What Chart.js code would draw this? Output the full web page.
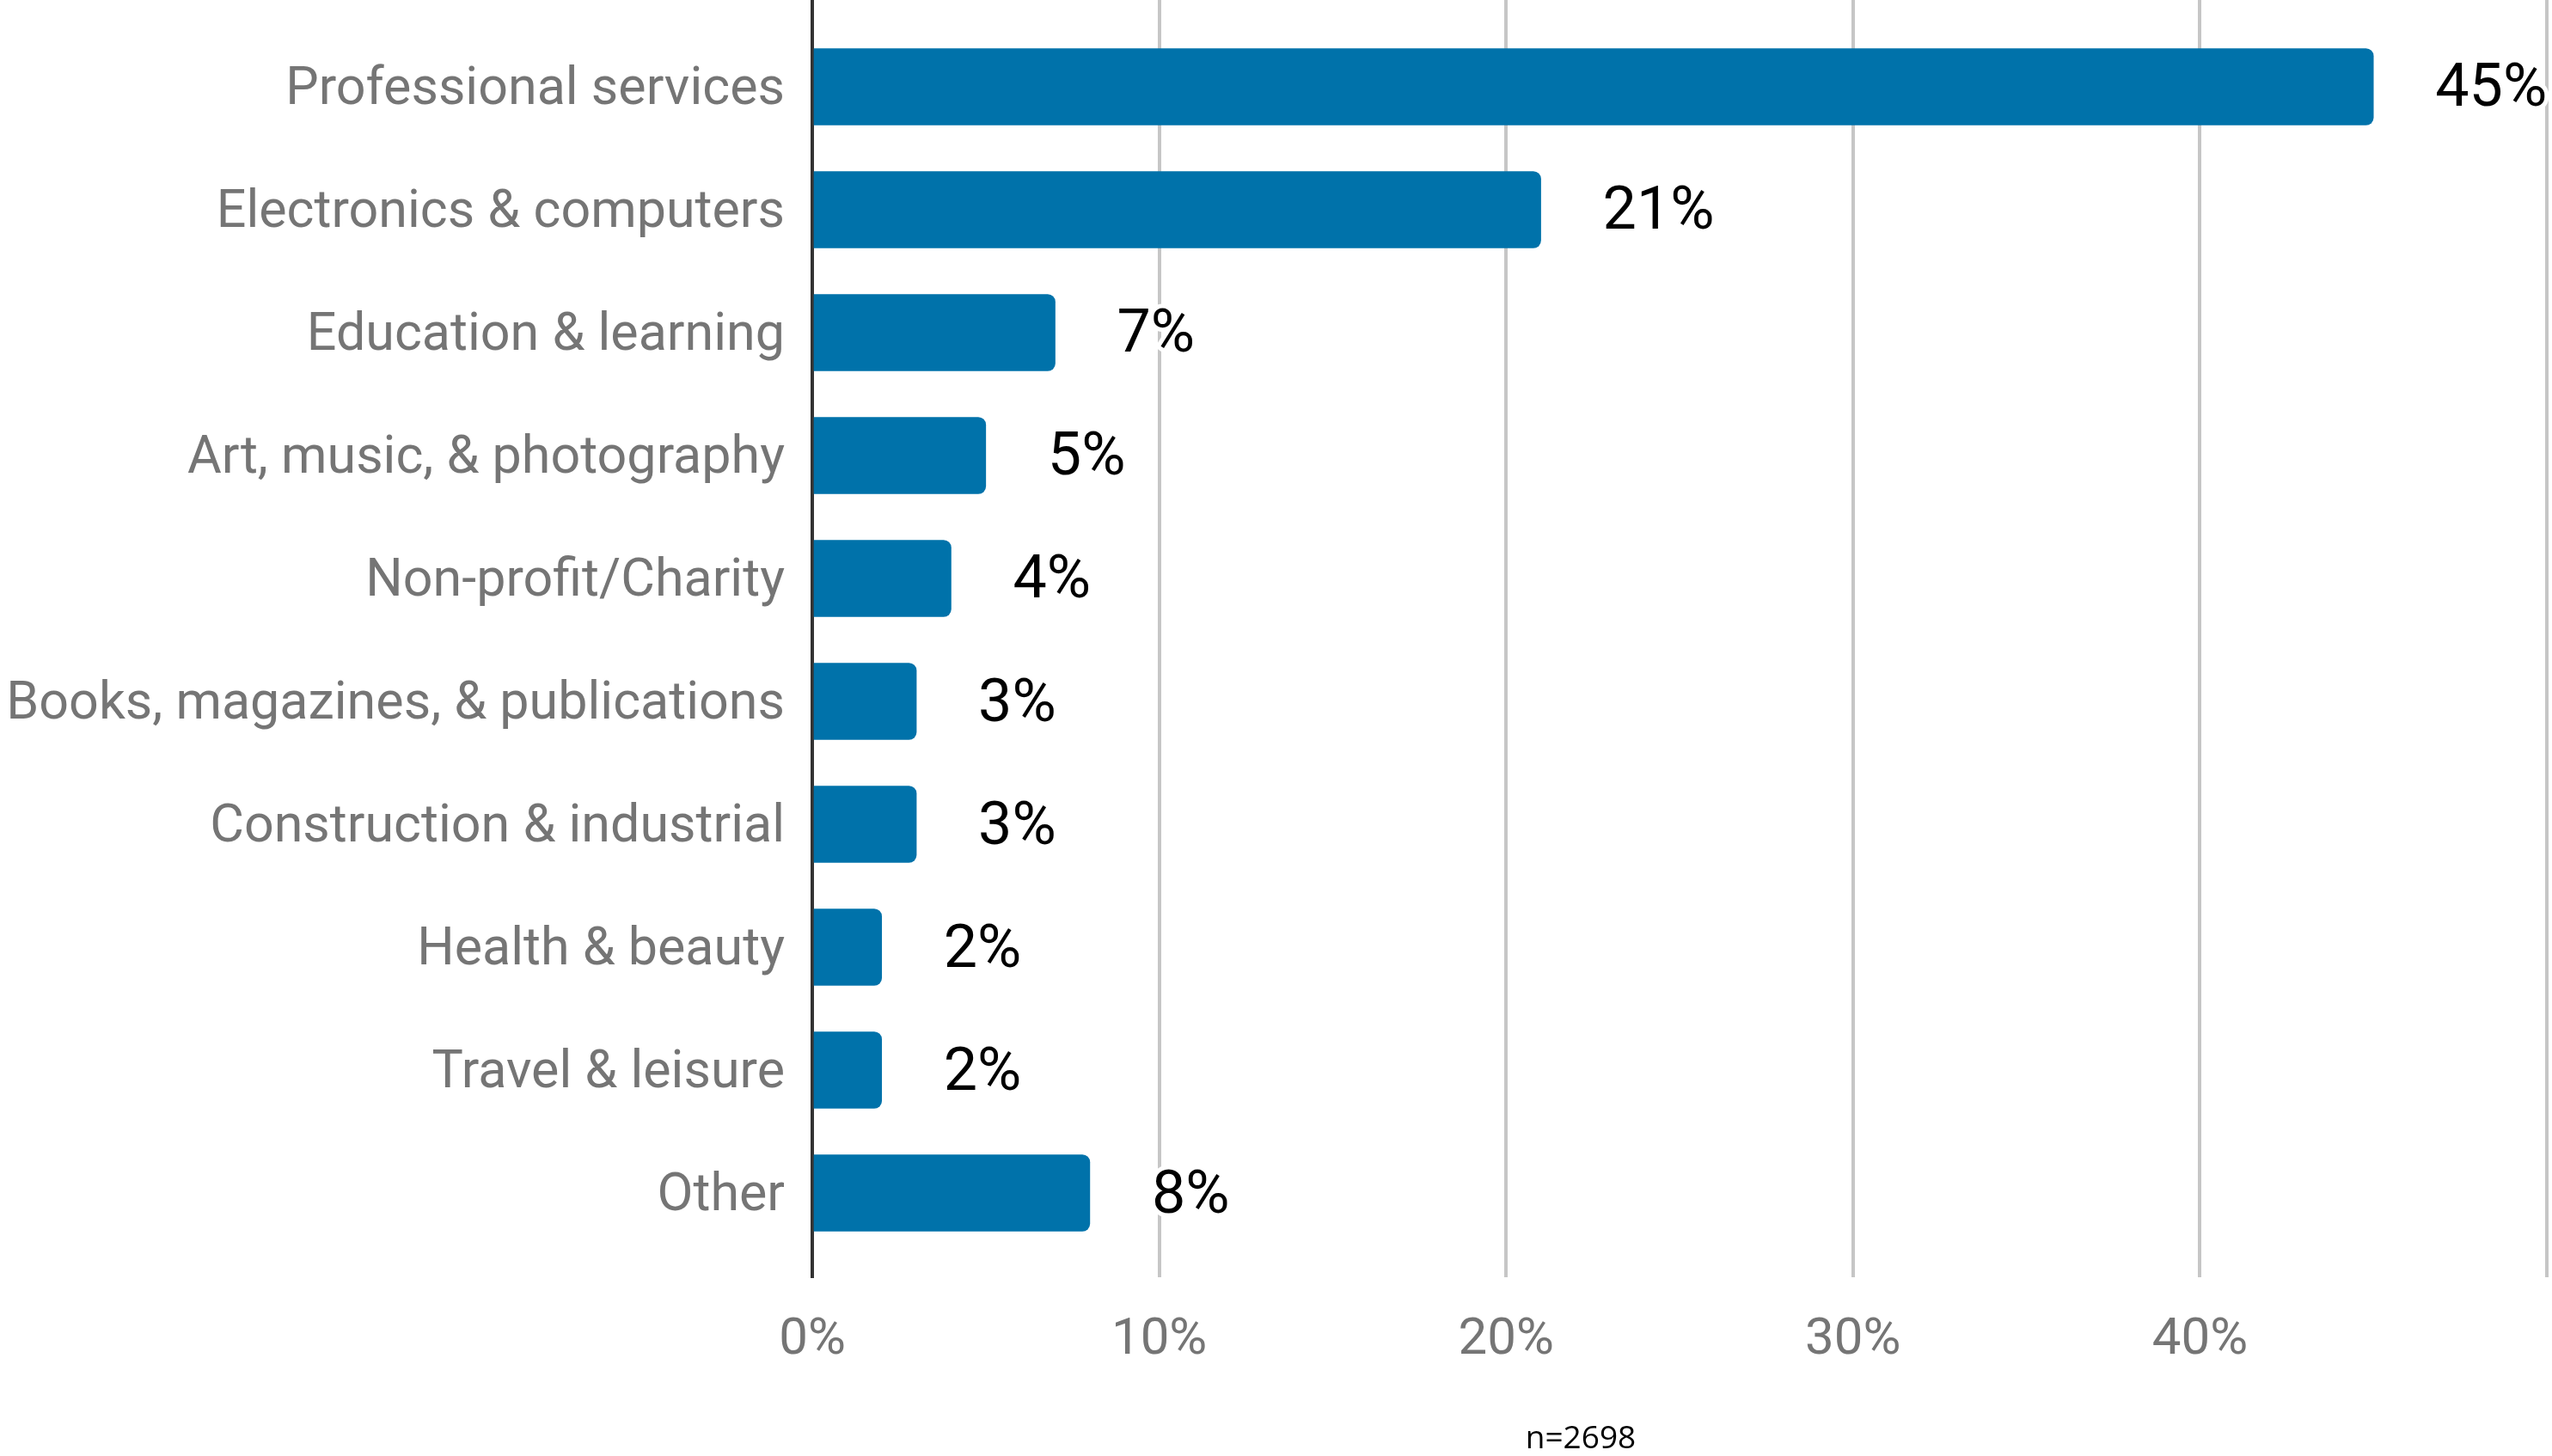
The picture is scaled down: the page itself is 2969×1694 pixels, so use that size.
<!DOCTYPE html>
<html>
<head>
<meta charset="utf-8">
<script src="https://cdn.jsdelivr.net/npm/chart.js@4/dist/chart.umd.min.js"></script>
<style>
  html, body { margin: 0; padding: 0; background: #ffffff; }
  #wrap { width: 2969px; height: 1694px; }
  canvas { display: block; }
</style>
</head>
<body>
<div id="wrap"><canvas id="chart" width="2969" height="1694"></canvas></div>
<script>
// Industry breakdown of respondents (share of total, %)
const categories = [
  'Professional services',
  'Electronics & computers',
  'Education & learning',
  'Art, music, & photography',
  'Non-profit/Charity',
  'Books, magazines, & publications',
  'Construction & industrial',
  'Health & beauty',
  'Travel & leisure',
  'Other'
];
const shares = [45, 21, 7, 5, 4, 3, 3, 2, 2, 8];
const xTicks = [0, 10, 20, 30, 40, 50];
const sampleNote = 'n=2698';

const BAR_BLUE = '#0072aa';
const LABEL_GREY = '#757575';

// Value labels at the end of each bar, black text with a white halo
const valueLabels = {
  id: 'valueLabels',
  afterDraw(chart) {
    const { ctx } = chart;
    const meta = chart.getDatasetMeta(0);
    ctx.save();
    ctx.font = '70px Roboto';
    ctx.textAlign = 'left';
    ctx.textBaseline = 'middle';
    ctx.lineJoin = 'round';
    meta.data.forEach((bar, i) => {
      const text = shares[i] + '%';
      const x = bar.x + 72;
      const y = bar.y + 5;
      ctx.lineWidth = 10;
      ctx.strokeStyle = '#ffffff';
      ctx.strokeText(text, x, y);
      ctx.fillStyle = '#000000';
      ctx.fillText(text, x, y);
    });
    ctx.restore();
  }
};

// Sample size note under the axis
const footNote = {
  id: 'footNote',
  afterDraw(chart) {
    const { ctx } = chart;
    ctx.save();
    ctx.font = '37px "Open Sans"';
    ctx.fillStyle = '#000000';
    ctx.textAlign = 'center';
    ctx.textBaseline = 'alphabetic';
    ctx.fillText(sampleNote, 1839, 1685);
    ctx.restore();
  }
};

function draw() {
  new Chart(document.getElementById('chart'), {
    type: 'bar',
    data: {
      datasets: [{
        data: shares.map((v, i) => ({ x: v, y: i })),
        backgroundColor: BAR_BLUE,
        borderWidth: 0,
        borderRadius: { topLeft: 0, bottomLeft: 0, topRight: 9, bottomRight: 9 },
        borderSkipped: false,
        barThickness: 89
      }]
    },
    options: {
      indexAxis: 'y',
      responsive: false,
      devicePixelRatio: 1,
      animation: false,
      layout: { padding: { top: 0, right: 6, bottom: 0, left: 0 } },
      plugins: {
        legend: { display: false },
        tooltip: { enabled: false }
      },
      scales: {
        x: {
          type: 'linear',
          position: 'bottom',
          min: xTicks[0],
          max: xTicks[xTicks.length - 1],
          offset: false,
          afterBuildTicks: s => { s.ticks = xTicks.map(v => ({ value: v })); },
          afterFit: s => {
            s.height = 208;
            s.paddingLeft = 0;
            s.paddingRight = 0;
          },
          grid: { color: '#c6c6c6', lineWidth: 4, drawTicks: false, offset: false },
          border: { display: false },
          ticks: {
            padding: 38,
            color: LABEL_GREY,
            font: { family: 'Roboto', size: 60 },
            callback: v => (v === 50 ? '' : v + '%')
          }
        },
        y: {
          type: 'linear',
          reverse: true,
          offset: false,
          min: -0.706,
          max: 9.685,
          afterBuildTicks: s => { s.ticks = categories.map((_, i) => ({ value: i })); },
          afterFit: s => {
            s.width = 945;
            s.paddingTop = 0;
            s.paddingBottom = 0;
          },
          grid: { display: false, drawTicks: false, offset: false },
          border: { display: true, color: '#333333', width: 4 },
          ticks: {
            padding: 32,
            labelOffset: 5,
            color: LABEL_GREY,
            font: { family: 'Roboto', size: 61 },
            callback: v => categories[v]
          }
        }
      }
    },
    plugins: [valueLabels, footNote]
  });
}

Promise.all([
  document.fonts.load('61px Roboto'),
  document.fonts.load('70px Roboto'),
  document.fonts.load('37px "Open Sans"')
]).then(draw, draw);
</script>
</body>
</html>
